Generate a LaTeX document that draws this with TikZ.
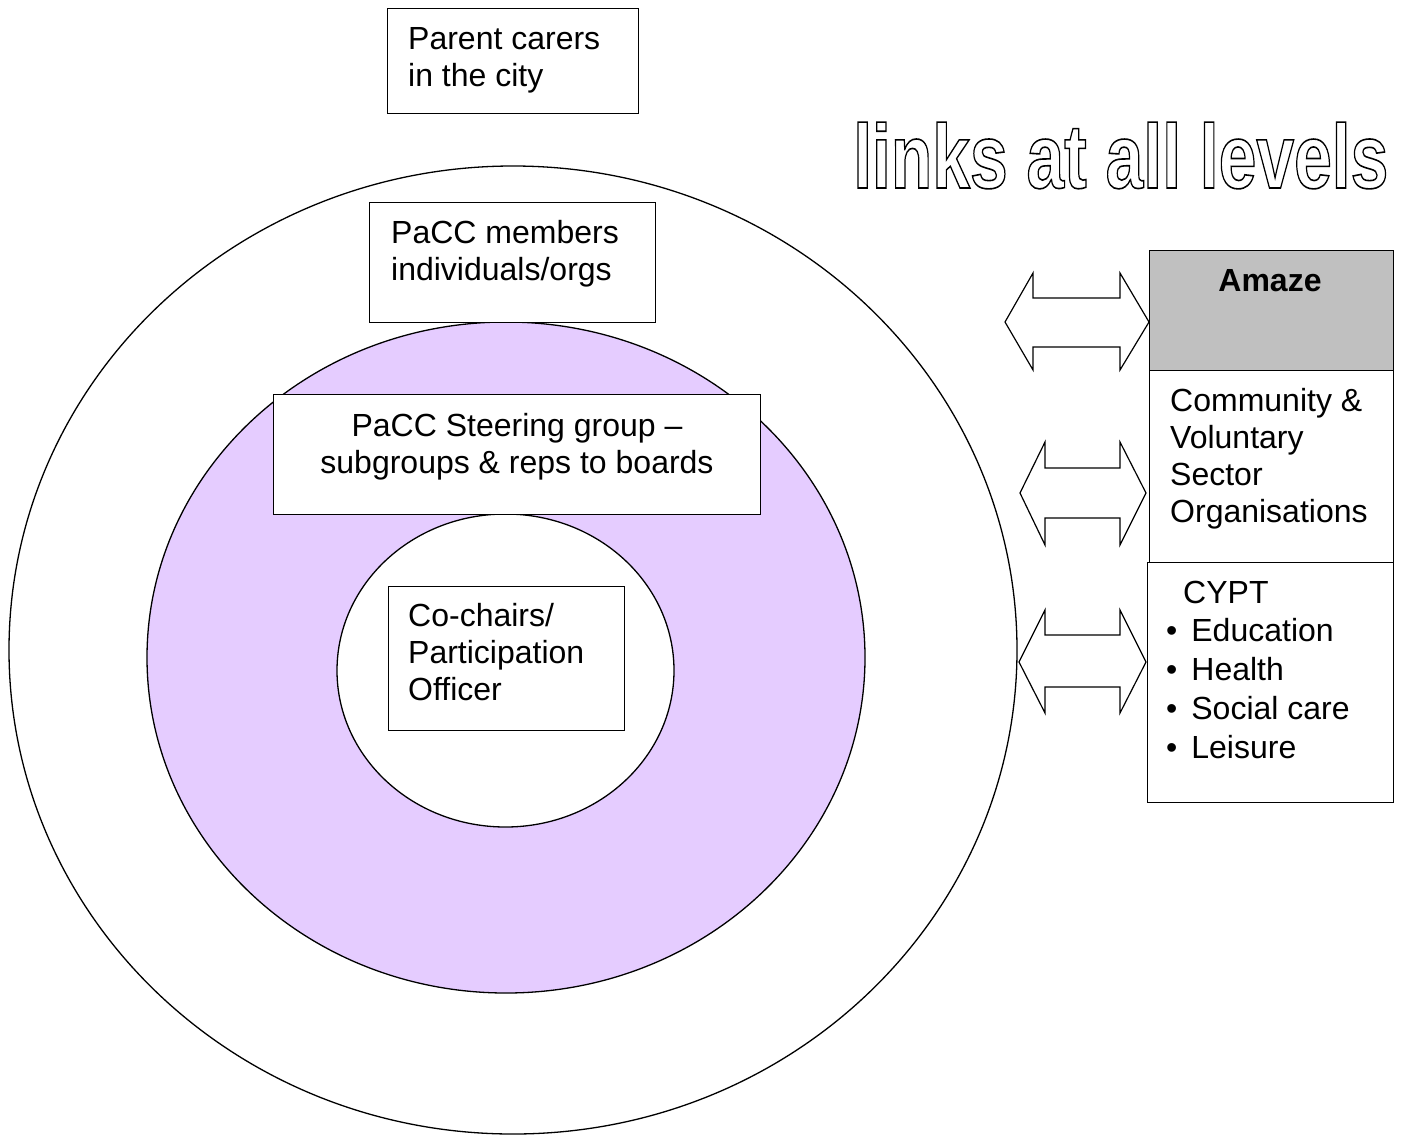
\documentclass[tikz,border=0pt]{standalone}
\usepackage{fontspec}
\setmainfont{Liberation Sans}
\usetikzlibrary{shapes.geometric}
\definecolor{lilac}{RGB}{229,204,255}
\definecolor{amazegray}{RGB}{192,192,192}
\newcommand{\fs}{\fontsize{32}{37}\selectfont}
\newcommand{\fsb}{\fontsize{32}{38.7}\selectfont}
\newcommand{\outlinetext}[1]{\special{pdf:literal direct 1 Tr 1.6 w}#1\special{pdf:literal direct 0 Tr}}
\begin{document}
\begin{tikzpicture}[x=1pt,y=-1pt,
  box/.style={draw=black, line width=1.3pt, fill=white, rectangle, inner sep=0pt, anchor=north west},
  txt/.style={inner sep=0pt, anchor=north west, align=left, font=\fs},
  ring/.style={draw=black, line width=1.3pt, ellipse, inner sep=0pt},
  blockarrow/.style={draw=black, line width=1.2pt, fill=white, line join=miter}]
\useasboundingbox (0,0) rectangle (1402,1138);
\fill[white] (0,0) rectangle (1402,1138);

% rings
\node[ring, fill=white, minimum width=1008pt, minimum height=968pt] (outer) at (513,650) {};
\node[ring, fill=lilac, minimum width=718pt, minimum height=671pt] (steerring) at (506,657.5) {};
\node[ring, fill=white, minimum width=337pt, minimum height=313pt] (core) at (505.5,670.5) {};

% boxes
\node[box, minimum width=251pt, minimum height=105pt] (parent) at (387,8) {};
\node[txt] (parentT) at (408,23.4) {\strut Parent carers\\in the city};

\node[box, minimum width=286pt, minimum height=120pt] (members) at (369,202) {};
\node[txt] (membersT) at (391,217.4) {\strut PaCC members\\individuals/orgs};

\node[box, minimum width=487pt, minimum height=120pt] (steer) at (273,394) {};
\node[txt, anchor=north, align=center] (steerT) at (517,410.4) {\strut PaCC Steering group --\\subgroups \& reps to boards};

\node[box, minimum width=236pt, minimum height=144pt] (cochairs) at (388,586) {};
\node[txt] (cochairsT) at (408,600.4) {\strut Co-chairs/\\Participation\\Officer};

% right column
\node[box, fill=amazegray, minimum width=244pt, minimum height=120pt] (amaze) at (1149,250) {};
\node[txt, anchor=north] (amazeT) at (1270,265.4) {\strut\textbf{Amaze}};

\node[box, minimum width=244pt, minimum height=192pt] (cvs) at (1149,370) {};
\node[txt] (cvsT) at (1170,385.4) {\strut Community \&\\Voluntary\\Sector\\Organisations};

\node[box, minimum width=246pt, minimum height=240pt] (cypt) at (1147,562) {};
\node[txt, font=\fsb] (cyptT) at (1166,575.9) {\strut\hspace*{17pt}CYPT\\%
•\hspace{14pt}Education\\•\hspace{14pt}Health\\•\hspace{14pt}Social care\\•\hspace{14pt}Leisure};

% double block arrows
\draw[blockarrow] (1005,322) -- (1033,273) -- (1033,298) -- (1120,298) -- (1120,273) -- (1149,322)
  -- (1120,370) -- (1120,347) -- (1033,347) -- (1033,370) -- cycle;
\draw[blockarrow] (1020,493) -- (1045,442) -- (1045,468) -- (1120,468) -- (1120,442) -- (1146,493)
  -- (1120,545) -- (1120,518) -- (1045,518) -- (1045,545) -- cycle;
\draw[blockarrow] (1019,662) -- (1045,610) -- (1045,635) -- (1120,635) -- (1120,610) -- (1146,662)
  -- (1120,713) -- (1120,687) -- (1045,687) -- (1045,713) -- cycle;

% title
\node[inner sep=0pt, anchor=base west] (title) at (853,188)
  {\scalebox{0.745}[1]{\fontsize{91}{100}\selectfont\bfseries\outlinetext{links at all levels}}};
\end{tikzpicture}
\end{document}
